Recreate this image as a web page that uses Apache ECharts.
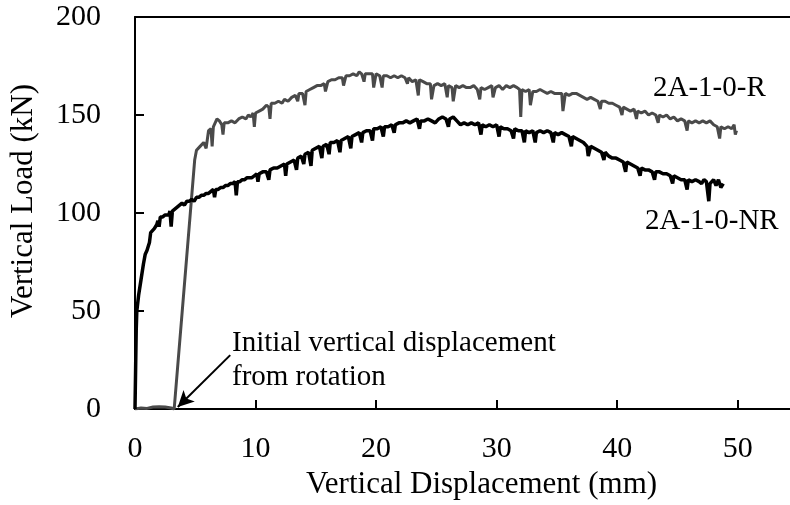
<!DOCTYPE html>
<html>
<head>
<meta charset="utf-8">
<script src="https://cdn.jsdelivr.net/npm/echarts@6/dist/echarts.min.js"></script>
<style>
html,body{margin:0;padding:0;background:#fff;overflow:hidden;width:790px;height:505px;}
#chart{width:798px;height:505px;}
</style>
</head>
<body>
<div id="chart"></div>
<script>
// ---- data ----
var xTicks = [0, 10, 20, 30, 40, 50];
var yTicks = [0, 50, 100, 150, 200];
var seriesNames = ['2A-1-0-R', '2A-1-0-NR'];
var xTitle = 'Vertical Displacement (mm)';
var yTitle = 'Vertical Load (kN)';
var noteText = 'Initial vertical displacement\nfrom rotation';
var arrowFrom = [7.9, 27.5];
var arrowTo = [3.55, 1.0];

// 2A-1-0-R (grey) : [displacement mm, load kN]
var dataR = [
[0,0],[0.5,0.5],[1,0.3],[1.5,1],[2,1.2],[2.5,1],[3,0.5],[3.25,0],[4.95,127],[5.1,132],[5.4,134],[5.7,136],[5.9,133],[6.1,142],[6.3,143],[6.4,134],[6.5,144],[6.8,148],[7.0,147],[7.2,145],[7.3,140],[7.4,146],[7.7,146],[8.0,147],[8.3,146],[8.6,148],[8.9,149],[9.2,148],[9.4,150],[9.6,149],[9.8,151],[9.9,144],[10.0,151],[10.3,152],[10.6,153],[10.9,155],[11.1,154],[11.2,148],[11.3,156],[11.6,156],[11.9,157],[12.2,156],[12.4,158],[12.7,157],[13.0,159],[13.3,160],[13.5,157],[13.6,161],[13.9,161],[14.1,155],[14.2,162],[14.5,163],[14.8,164],[15.1,165],[15.4,165],[15.7,166],[15.8,162],[16.0,167],[16.3,168],[16.6,168],[16.9,169],[17.2,169],[17.3,165],[17.5,170],[17.8,170],[18.1,171],[18.4,170],[18.6,172],[18.8,171],[19.0,167],[19.1,171],[19.4,171],[19.7,171],[19.8,164],[20.0,171],[20.3,170],[20.5,164],[20.6,170],[20.9,170],[21.2,169],[21.5,170],[21.8,169],[22.1,170],[22.4,169],[22.6,166],[22.7,169],[23.0,167],[23.3,168],[23.5,160],[23.6,168],[23.9,167],[24.2,166],[24.5,166],[24.6,158],[24.8,165],[25.1,166],[25.4,165],[25.7,166],[25.9,159],[26.0,165],[26.3,164],[26.4,157],[26.6,165],[26.9,164],[27.2,165],[27.5,164],[27.8,164],[28.1,165],[28.4,163],[28.6,158],[28.7,164],[29.0,163],[29.3,164],[29.6,165],[29.7,159],[29.9,164],[30.2,165],[30.5,163],[30.8,165],[31.1,164],[31.4,165],[31.7,164],[31.9,163],[32.0,149],[32.1,163],[32.4,162],[32.7,163],[32.8,155],[33.0,162],[33.3,162],[33.6,163],[33.9,162],[34.2,161],[34.5,162],[34.8,161],[35.1,161],[35.4,161],[35.5,152],[35.7,161],[36.0,160],[36.3,161],[36.6,161],[36.9,160],[37.2,159],[37.5,158],[37.8,159],[38.1,158],[38.4,157],[38.6,153],[38.7,157],[39.0,157],[39.3,156],[39.6,156],[39.9,155],[40.2,154],[40.4,150],[40.5,154],[40.8,153],[41.1,152],[41.4,153],[41.6,148],[41.7,152],[42.0,151],[42.3,152],[42.6,150],[42.9,151],[43.2,150],[43.4,146],[43.5,150],[43.8,149],[44.1,150],[44.4,148],[44.7,149],[45.0,147],[45.3,148],[45.6,147],[45.8,142],[45.9,147],[46.2,146],[46.5,147],[46.8,146],[47.1,147],[47.4,146],[47.7,147],[48.0,145],[48.3,144],[48.5,138],[48.6,144],[48.9,143],[49.2,144],[49.5,143],[49.7,145],[49.8,140],[49.9,142]
];

// 2A-1-0-NR (black)
var dataNR = [
[0,0],[0.05,20],[0.1,40],[0.15,50],[0.3,58],[0.5,66],[0.7,74],[0.85,79],[1.0,81],[1.1,83],[1.2,85],[1.3,90],[1.4,91],[1.6,92],[1.8,94],[1.9,96],[2.0,93],[2.1,98],[2.3,98],[2.5,99],[2.6,100],[2.8,99],[2.9,101],[3.0,93],[3.1,101],[3.3,102],[3.5,103],[3.7,104],[3.9,105],[4.1,104],[4.3,106],[4.5,106],[4.7,107],[4.9,106],[5.1,108],[5.3,108],[5.5,109],[5.7,109],[5.9,110],[6.1,110],[6.3,111],[6.5,112],[6.6,108],[6.7,112],[6.9,112],[7.1,113],[7.3,113],[7.5,114],[7.7,114],[7.9,115],[8.1,115],[8.3,116],[8.4,109],[8.5,116],[8.7,116],[8.9,117],[9.1,117],[9.3,118],[9.5,118],[9.7,118],[9.9,119],[10.1,120],[10.2,116],[10.3,120],[10.6,121],[10.9,121],[11.1,117],[11.2,122],[11.5,123],[11.8,123],[12.1,124],[12.4,125],[12.5,119],[12.6,125],[12.9,126],[13.2,127],[13.4,122],[13.5,128],[13.8,129],[14.0,125],[14.1,130],[14.4,131],[14.6,124],[14.7,132],[15.0,133],[15.3,134],[15.5,128],[15.6,134],[15.9,135],[16.1,130],[16.2,136],[16.5,136],[16.8,137],[17.0,131],[17.1,137],[17.4,138],[17.7,139],[17.9,133],[18.0,139],[18.3,140],[18.6,141],[18.8,136],[18.9,141],[19.2,142],[19.5,142],[19.7,137],[19.8,143],[20.1,143],[20.4,144],[20.6,139],[20.7,144],[21.0,144],[21.3,145],[21.5,141],[21.6,145],[21.9,146],[22.2,146],[22.5,147],[22.8,146],[23.1,147],[23.4,148],[23.6,143],[23.7,147],[24.0,147],[24.3,148],[24.6,147],[24.9,146],[25.2,148],[25.5,149],[25.8,148],[26.0,144],[26.1,148],[26.4,149],[26.7,147],[27.0,145],[27.3,146],[27.6,145],[27.9,146],[28.2,145],[28.5,146],[28.7,140],[28.8,145],[29.1,144],[29.4,145],[29.7,144],[30.0,145],[30.2,139],[30.3,144],[30.6,143],[30.9,143],[31.2,142],[31.4,138],[31.5,143],[31.8,142],[32.1,142],[32.3,136],[32.4,142],[32.7,141],[33.0,142],[33.2,136],[33.3,141],[33.6,142],[33.9,141],[34.2,142],[34.5,141],[34.7,136],[34.8,141],[35.1,140],[35.4,141],[35.7,140],[36.0,139],[36.2,134],[36.3,139],[36.6,138],[36.9,137],[37.2,136],[37.5,134],[37.6,129],[37.8,134],[38.1,133],[38.4,132],[38.7,131],[38.9,127],[39.0,131],[39.3,129],[39.6,128],[39.9,128],[40.2,127],[40.5,126],[40.7,121],[40.8,126],[41.1,125],[41.4,124],[41.7,123],[41.9,119],[42.0,123],[42.3,122],[42.6,122],[42.9,121],[43.1,117],[43.2,121],[43.5,121],[43.8,120],[44.1,120],[44.4,119],[44.6,115],[44.7,119],[45.0,118],[45.3,117],[45.6,117],[45.8,112],[45.9,117],[46.2,116],[46.5,117],[46.8,116],[47.0,115],[47.2,117],[47.4,116],[47.6,106],[47.7,115],[48.0,117],[48.2,114],[48.4,117],[48.6,113],[48.8,115]
];

var FONT = 'Liberation Serif';
var chart = echarts.init(document.getElementById('chart'), null, {renderer: 'canvas'});

chart.setOption({
  animation: false,
  backgroundColor: '#fff',
  grid: {left: 131, right: 0, top: 17, bottom: 96, show: false},
  xAxis: [{
    type: 'value', min: xTicks[0], max: 55, interval: 10,
    name: xTitle, nameLocation: 'middle', nameGap: 58,
    nameTextStyle: {fontFamily: FONT, fontSize: 31, color: '#000', padding: [0, 0, 0, 30]},
    axisLine: {show: true, onZero: false, lineStyle: {color: '#000', width: 2}},
    axisTick: {show: true, inside: true, length: 9, lineStyle: {color: '#000', width: 2}},
    axisLabel: {fontFamily: FONT, fontSize: 30, color: '#000', margin: 25, showMaxLabel: false,
      formatter: function (v) { return xTicks.indexOf(v) >= 0 ? String(v) : ''; }},
    splitLine: {show: false}
  }, {
    type: 'value', position: 'top', min: xTicks[0], max: 55,
    axisLine: {show: true, onZero: false, lineStyle: {color: '#000', width: 2}},
    axisTick: {show: false}, axisLabel: {show: false}, splitLine: {show: false}
  }],
  yAxis: {
    type: 'value', min: yTicks[0], max: yTicks[yTicks.length - 1], interval: 50,
    name: yTitle, nameLocation: 'middle', nameGap: 96, nameRotate: 90,
    nameTextStyle: {fontFamily: FONT, fontSize: 31, color: '#000', padding: [0, 0, 0, 24]},
    axisLine: {show: true, lineStyle: {color: '#000', width: 2}},
    axisTick: {show: true, inside: true, length: 9, lineStyle: {color: '#000', width: 2}},
    axisLabel: {fontFamily: FONT, fontSize: 30, color: '#000', margin: 34},
    splitLine: {show: false}
  },
  series: [
    {
      name: seriesNames[0], type: 'line', data: dataR, showSymbol: false, symbol: 'none',
      lineStyle: {color: '#4a4a4a', width: 3}, z: 2,
      markLine: {
        silent: true, symbol: ['none', 'arrow'], symbolSize: [12, 16],
        lineStyle: {color: '#000', width: 2, type: 'solid'},
        label: {show: false},
        data: [[{coord: arrowFrom}, {coord: arrowTo}]]
      }
    },
    {
      name: seriesNames[1], type: 'line', data: dataNR, showSymbol: false, symbol: 'none',
      lineStyle: {color: '#000', width: 3.5}, z: 3
    }
  ],
  graphic: [
    {type: 'text', left: 232, top: 326, style: {text: noteText, font: '29px "Liberation Serif"', fill: '#000', lineHeight: 34}},
    {type: 'text', left: 653, top: 74, style: {text: seriesNames[0], font: '29px "Liberation Serif"', fill: '#000'}},
    {type: 'text', left: 645, top: 207, style: {text: seriesNames[1], font: '29px "Liberation Serif"', fill: '#000'}}
  ]
});
</script>
</body>
</html>
